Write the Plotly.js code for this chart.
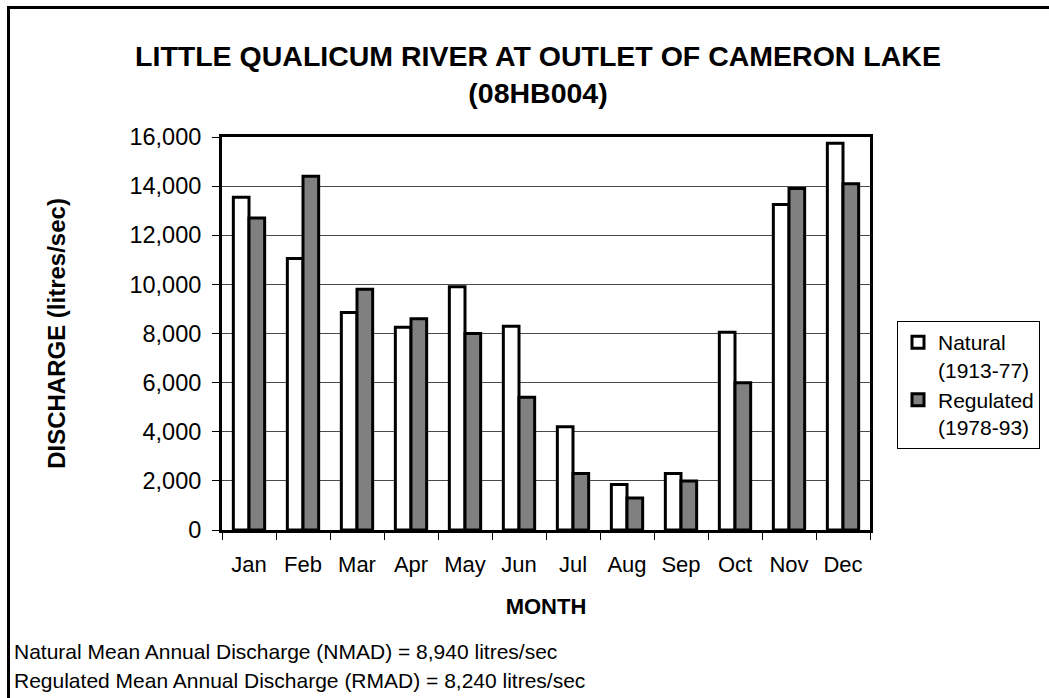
<!DOCTYPE html>
<html>
<head>
<meta charset="utf-8">
<script src="https://cdn.plot.ly/plotly-3.0.1.min.js"></script>
<style>html,body{margin:0;padding:0;background:#fff;}#chart{width:1049px;height:698px;}</style>
</head>
<body>
<div id="chart"></div>
<script>
const months = ['Jan','Feb','Mar','Apr','May','Jun','Jul','Aug','Sep','Oct','Nov','Dec'];
const natural = [13550, 11050, 8850, 8250, 9900, 8300, 4200, 1850, 2300, 8050, 13250, 15750];
const regulated = [12700, 14400, 9800, 8600, 8000, 5400, 2300, 1300, 2000, 6000, 13900, 14100];
const seriesNames = ['Natural<br>(1913-77)', 'Regulated<br>(1978-93)'];
const titleText = 'LITTLE QUALICUM RIVER AT OUTLET OF CAMERON LAKE<br>(08HB004)';
const yTitle = 'DISCHARGE (litres/sec)';
const xTitle = 'MONTH';
const footer1 = 'Natural Mean Annual Discharge (NMAD) = 8,940 litres/sec';
const footer2 = 'Regulated Mean Annual Discharge (RMAD) = 8,240 litres/sec';

const W = 1049, H = 698, L = 222, R = 870, T = 137, B = 530;
const px = x => (x - L) / (R - L);
const py = y => (B - y) / (B - T);
const FONT = 'Arial, Liberation Sans, sans-serif';

const traces = [
  {type:'bar', name: seriesNames[0], x: months, y: natural,
   marker:{color:'#ffffff', line:{color:'#000000', width:3}}},
  {type:'bar', name: seriesNames[1], x: months, y: regulated,
   marker:{color:'#808080', line:{color:'#000000', width:3}}}
];

const layout = {
  width: W, height: H,
  margin: {l: L, r: W - R, t: T, b: H - B, pad: 0, autoexpand: false},
  paper_bgcolor: '#ffffff', plot_bgcolor: '#ffffff',
  font: {family: FONT, color: '#000000', size: 22},
  barmode: 'group', bargap: 0.42, bargroupgap: 0,
  showlegend: true,
  title: {text: titleText, font: {family: FONT, size: 28.5, weight: 'bold', color:'#000'},
          xref: 'container', yref: 'container', x: 538 / W, xanchor: 'center',
          y: 1 - 66 / H, yanchor: 'top'},
  xaxis: {
    type: 'category', showgrid: false, showline: true, linecolor: '#000', linewidth: 3,
    mirror: true, ticks: 'outside', ticklen: 7, tickwidth: 1, tickcolor: '#000',
    tickson: 'boundaries', tickfont: {size: 22}, ticklabelstandoff: 13,
    title: {text: xTitle, font: {size: 22, weight: 'bold'}, standoff: 23},
    zeroline: false, fixedrange: true
  },
  yaxis: {
    range: [0, 16000], dtick: 2000, tick0: 0, tickformat: ',d',
    showgrid: true, gridcolor: '#4a4a4a', gridwidth: 1,
    showline: true, linecolor: '#000', linewidth: 3, mirror: true,
    ticks: 'outside', ticklen: 7, tickwidth: 1, tickcolor: '#000',
    tickfont: {size: 23.5}, zeroline: false, ticklabelstandoff: 6,
    title: {text: yTitle, font: {size: 24, weight: 'bold'}, standoff: 58},
    fixedrange: true
  },
  legend: {
    x: px(897), y: py(321), xanchor: 'left', yanchor: 'top',
    bordercolor: '#000', borderwidth: 1, bgcolor: '#fff',
    font: {size: 21}, valign: 'top', tracegroupgap: 0, traceorder: 'normal'
  },
  shapes: [
    {type: 'rect', xref: 'paper', yref: 'paper',
     x0: px(8.5), x1: px(1060), y0: py(710), y1: py(7.5),
     line: {color: '#000', width: 3}, fillcolor: 'rgba(0,0,0,0)', layer: 'below'}
  ],
  annotations: [
    {text: footer1, xref: 'paper', yref: 'paper', x: px(12), y: py(651),
     xanchor: 'left', yanchor: 'middle', showarrow: false, font: {size: 21}},
    {text: footer2, xref: 'paper', yref: 'paper', x: px(12), y: py(680),
     xanchor: 'left', yanchor: 'middle', showarrow: false, font: {size: 21}}
  ]
};

Plotly.newPlot('chart', traces, layout, {displayModeBar: false, staticPlot: true});
</script>
</body>
</html>
